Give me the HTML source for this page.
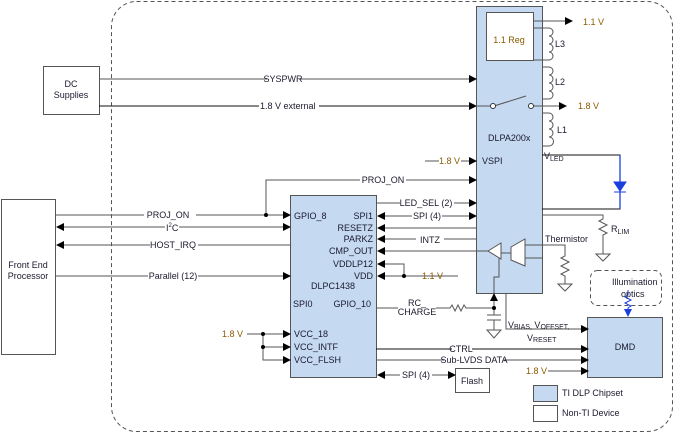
<!DOCTYPE html>
<html><head><meta charset="utf-8"><style>
html,body{margin:0;padding:0;background:#fff;}
svg{display:block;font-family:"Liberation Sans",Arial,sans-serif;}
text{font-size:9px;fill:#1a1a2e;}
.o{fill:#8a5a00;}
</style></head><body>
<svg width="679" height="434" viewBox="0 0 679 434" xmlns="http://www.w3.org/2000/svg">
<defs>
<marker id="a" markerWidth="8" markerHeight="8" refX="7" refY="4" orient="auto" markerUnits="userSpaceOnUse"><path d="M0,0 L8,4 L0,8 z" fill="#000"/></marker>
<marker id="s" markerWidth="8" markerHeight="8" refX="1" refY="4" orient="auto" markerUnits="userSpaceOnUse"><path d="M8,0 L0,4 L8,8 z" fill="#000"/></marker>
<marker id="b" markerWidth="8" markerHeight="8" refX="7" refY="4" orient="auto" markerUnits="userSpaceOnUse"><path d="M0,0 L8,4 L0,8 z" fill="#1a3ee0"/></marker>
</defs>
<rect x="111.5" y="1.5" width="561" height="430" rx="25" fill="none" stroke="#555" stroke-dasharray="4,3"/>
<g stroke="#555" fill="none" stroke-width="1">
<rect x="43.5" y="66.5" width="56" height="48" fill="#fff"/>
<rect x="1.5" y="199.5" width="54" height="155" fill="#fff"/>
<rect x="476.5" y="6.5" width="66" height="287" fill="#c5d9f1"/>
<rect x="486.5" y="12.5" width="47" height="48" fill="#fff"/>
<rect x="290.5" y="195.5" width="86" height="182" fill="#c5d9f1"/>
<rect x="587.5" y="317.5" width="75" height="60" fill="#c5d9f1"/>
<rect x="455.5" y="368.5" width="34" height="24" fill="#fff"/>
<rect x="533.5" y="385.5" width="24" height="16" fill="#c5d9f1"/>
<rect x="533.5" y="405.5" width="24" height="16" fill="#fff"/>
<rect x="590.5" y="270.5" width="71" height="35" rx="7" stroke-dasharray="4,3"/>
</g>
<g stroke="#555" fill="none">
<line x1="99" y1="79" x2="476" y2="79" marker-end="url(#a)"/>
<line x1="99" y1="106" x2="476" y2="106" marker-end="url(#a)" stroke="#111"/>
<line x1="476" y1="106" x2="492" y2="106"/>
<line x1="494" y1="106" x2="526" y2="96"/>
<line x1="534" y1="106" x2="566" y2="106" marker-end="url(#a)"/>
<line x1="533" y1="21" x2="572" y2="21" marker-end="url(#a)"/>
<path d="M533,28 H549 M533,60 H549 M542,67 H549 M542,99 H549 M542,113 H549 M542,146 H549"/>
<path d="M549,28 a4,4 0 0 1 0,8 a4,4 0 0 1 0,8 a4,4 0 0 1 0,8 a4,4 0 0 1 0,8"/>
<path d="M549,67 a4,4 0 0 1 0,8 a4,4 0 0 1 0,8 a4,4 0 0 1 0,8 a4,4 0 0 1 0,8"/>
<path d="M549,113 a4,4 0 0 1 0,8 a4,4 0 0 1 0,8 a4,4 0 0 1 0,8 a4,4 0 0 1 0,9"/>
<line x1="425" y1="161" x2="476" y2="161" marker-end="url(#a)"/>
<path d="M266,214 V180 H476" marker-end="url(#a)"/>
<line x1="55" y1="215" x2="290" y2="215" marker-end="url(#a)"/>
<line x1="57" y1="227" x2="290" y2="227" marker-start="url(#s)" marker-end="url(#a)"/>
<line x1="290" y1="245" x2="57" y2="245" marker-end="url(#a)"/>
<line x1="55" y1="276" x2="290" y2="276" marker-end="url(#a)"/>
<line x1="376" y1="203" x2="476" y2="203" marker-end="url(#a)"/>
<line x1="378" y1="216" x2="476" y2="216" marker-start="url(#s)" marker-end="url(#a)"/>
<line x1="476" y1="228" x2="378" y2="228" marker-end="url(#a)"/>
<line x1="476" y1="239" x2="378" y2="239" marker-end="url(#a)"/>
<line x1="488" y1="251" x2="378" y2="251" marker-end="url(#a)"/>
<path d="M404,276 V264 H378" marker-end="url(#a)"/>
<line x1="458" y1="276" x2="378" y2="276" marker-end="url(#a)"/>
<path d="M376,308 H450 l2,-3 l3,6 l3,-6 l3,6 l3,-6 l2,3 H494"/>
<line x1="494" y1="315" x2="494" y2="294" marker-end="url(#a)"/>
<path d="M487,315 H501 M487,320 H501 M494,320 V330"/>
<path d="M487,330 H501 L494,338 Z"/>
<path d="M494,293 V277 H499 V256"/>
<path d="M488,251 L501,243 V259 Z" fill="#fff"/>
<path d="M501,253 H511"/>
<path d="M511,247 L525,239 V266 L511,260 Z" fill="#fff"/>
<path d="M525,245 H565 V256 l-4,2 l8,4 l-8,4 l8,4 l-8,4 l4,2 V284"/>
<path d="M558,284 H572 L565,291 Z"/>
<path d="M525,258 H542"/>
<path d="M542,215 H603 V219 l-4,2 l8,4 l-8,4 l8,4 l-4,2 V254"/>
<path d="M596,254 H610 L603,261 Z"/>
<path d="M506,293 V329 H588" marker-end="url(#a)"/>
<line x1="376" y1="349" x2="588" y2="349" marker-end="url(#a)" stroke="#111"/>
<line x1="376" y1="360" x2="588" y2="360" marker-end="url(#a)"/>
<line x1="548" y1="371" x2="588" y2="371" marker-end="url(#a)"/>
<line x1="378" y1="375" x2="455" y2="375" marker-start="url(#s)" marker-end="url(#a)"/>
<line x1="247" y1="334" x2="290" y2="334" marker-end="url(#a)"/>
<path d="M263,334 V360 H290" marker-end="url(#a)"/>
<line x1="263" y1="347" x2="290" y2="347" marker-end="url(#a)"/>
</g>
<path d="M542,155 H620 V209 H542" fill="none" stroke="#111"/>
<line x1="620" y1="155" x2="620" y2="209" stroke="#1a3ee0" stroke-width="1.3"/>
<path d="M614,182 H626 L620,191 Z M614,192 H626" fill="#1a3ee0" stroke="#1a3ee0"/>
<path d="M628,290 V295 l-3,2 l6,3 l-6,3 l6,3 l-3,2 V316" fill="none" stroke="#1a3ee0" marker-end="url(#b)"/>
<g fill="#000"><circle cx="266" cy="215" r="2"/><circle cx="404" cy="276" r="2"/><circle cx="494" cy="308" r="2"/><circle cx="263" cy="334" r="2"/><circle cx="263" cy="347" r="2"/></g>
<g fill="#fff" stroke="#333"><circle cx="493" cy="106" r="2.5"/><circle cx="531" cy="106" r="2.5"/></g>
<g fill="#fff">
<rect x="267" y="74" width="32" height="10"/><rect x="259" y="101" width="60" height="10"/>
<rect x="144" y="210" width="52" height="10"/><rect x="165" y="222" width="14" height="10"/>
<rect x="150" y="240" width="48" height="10"/><rect x="148" y="271" width="50" height="10"/>
<rect x="360" y="175" width="46" height="10"/><rect x="400" y="198" width="54" height="10"/>
<rect x="412" y="211" width="30" height="10"/><rect x="416" y="234" width="28" height="10"/>
<rect x="398" y="299" width="38" height="18"/><rect x="439" y="156" width="22" height="10"/>
<rect x="452" y="344" width="20" height="10"/><rect x="444" y="355" width="60" height="10"/>
<rect x="400" y="370" width="32" height="10"/>
</g>
<text x="71" y="87" text-anchor="middle">DC</text><text x="71" y="98" text-anchor="middle">Supplies</text>
<text x="28" y="268" text-anchor="middle">Front End</text><text x="28" y="279" text-anchor="middle">Processor</text>
<text x="283" y="82" text-anchor="middle">SYSPWR</text>
<text x="260" y="109">1.8 V external</text>
<text x="168" y="218" text-anchor="middle">PROJ_ON</text>
<text x="166" y="231">I<tspan dy="-4" font-size="6">2</tspan><tspan dy="4">C</tspan></text>
<text x="173" y="248" text-anchor="middle">HOST_IRQ</text>
<text x="173" y="279" text-anchor="middle">Parallel (12)</text>
<text x="383" y="183" text-anchor="middle">PROJ_ON</text>
<text x="426" y="206" text-anchor="middle">LED_SEL (2)</text>
<text x="427" y="219" text-anchor="middle">SPI (4)</text>
<text x="430" y="243" text-anchor="middle">INTZ</text>
<text x="422" y="279" class="o">1.1 V</text>
<text x="417" y="306" text-anchor="middle" font-size="7.5">RC_</text>
<text x="417" y="315" text-anchor="middle" font-size="7.5">CHARGE</text>
<text x="294" y="219">GPIO_8</text>
<g text-anchor="end"><text x="373" y="219">SPI1</text><text x="373" y="231">RESETZ</text><text x="373" y="242">PARKZ</text><text x="373" y="254">CMP_OUT</text><text x="373" y="267">VDDLP12</text><text x="373" y="279">VDD</text><text x="371" y="307">GPIO_10</text></g>
<text x="311" y="289">DLPC1438</text>
<text x="293" y="307">SPI0</text>
<text x="294" y="337">VCC_18</text><text x="294" y="350">VCC_INTF</text><text x="294" y="363">VCC_FLSH</text>
<text x="222" y="337" class="o">1.8 V</text>
<text x="509" y="43" text-anchor="middle" class="o">1.1 Reg</text>
<text x="583" y="25" class="o">1.1 V</text>
<text x="578" y="109" class="o">1.8 V</text>
<text x="555" y="47">L3</text><text x="555" y="85">L2</text><text x="557" y="133">L1</text>
<text x="488" y="141">DLPA200x</text>
<text x="439" y="164" class="o">1.8 V</text>
<text x="482" y="164">VSPI</text>
<text x="544" y="159">V<tspan font-size="7" dy="2">LED</tspan></text>
<text x="611" y="232">R<tspan font-size="7" dy="2">LIM</tspan></text>
<text x="545" y="242">Thermistor</text>
<text x="612" y="285">Illumination</text><text x="621" y="297">optics</text>
<text x="508" y="328">V<tspan font-size="7" dy="1">BIAS,</tspan><tspan dy="-1"> V</tspan><tspan font-size="7" dy="1">OFFSET,</tspan></text>
<text x="527" y="341">V<tspan font-size="7" dy="1">RESET</tspan></text>
<text x="461" y="352" text-anchor="middle">CTRL</text>
<text x="474" y="363" text-anchor="middle">Sub-LVDS DATA</text>
<text x="526" y="374" class="o">1.8 V</text>
<text x="416" y="378" text-anchor="middle">SPI (4)</text>
<text x="472" y="384" text-anchor="middle">Flash</text>
<text x="625" y="350" text-anchor="middle">DMD</text>
<text x="562" y="396">TI DLP Chipset</text>
<text x="562" y="416">Non-TI Device</text>
</svg>
</body></html>
